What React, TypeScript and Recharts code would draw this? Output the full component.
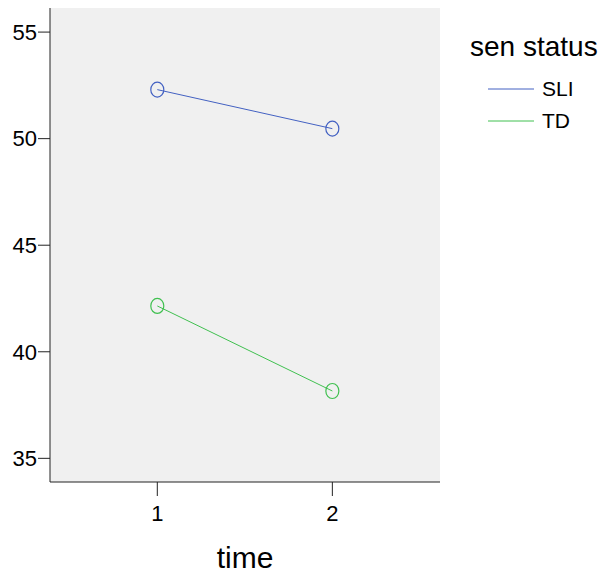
import { LineChart, Line, XAxis, YAxis, CartesianGrid } from "recharts";

const times = [1, 2];
const sliMeans = [52.3, 50.47];
const tdMeans = [42.15, 38.16];
const yTicks = [35, 40, 45, 50, 55];
const xTicks = [1, 2];

const series = [
  { key: "SLI", color: "#4361c2" },
  { key: "TD", color: "#40c050" },
];

const data = times.map((t, i) => ({ time: t, SLI: sliMeans[i], TD: tdMeans[i] }));

const font = "'Liberation Sans', Arial, sans-serif";

const Ring = (props: any) => {
  const { cx, cy, stroke } = props;
  if (cx == null || cy == null) return null;
  return <ellipse cx={cx} cy={cy} rx={6.5} ry={7.5} fill="none" stroke={stroke} strokeWidth={1.2} />;
};

export default function App() {
  return (
    <div style={{ position: "absolute", left: 0, top: 0, width: 607, height: 574, background: "#fff" }}>
      <LineChart width={607} height={574} data={data} margin={{ top: 8, right: 167, bottom: 0, left: 0 }}>
        <CartesianGrid horizontal={false} vertical={false} fill="#f0f0f0" />
        <XAxis
          dataKey="time"
          type="number"
          domain={[0.387, 2.615]}
          ticks={xTicks}
          allowDataOverflow
          height={92}
          tickSize={14}
          tickMargin={9}
          stroke="#222"
          tick={{ fill: "#000", fontSize: 22, fontFamily: font }}
          label={{ value: "time", position: "insideBottom", offset: 6, style: { fontSize: 30, fontFamily: font, fill: "#000" } }}
        />
        <XAxis xAxisId="top" orientation="top" dataKey="time" type="number" domain={[0.387, 2.615]} height={0} tick={false} tickLine={false} stroke="#555" />
        <YAxis
          domain={[33.89, 56.13]}
          ticks={yTicks}
          allowDataOverflow
          width={50}
          tickSize={12}
          tickMargin={1}
          stroke="#222"
          tick={{ fill: "#000", fontSize: 22, fontFamily: font }}
        />
        <YAxis yAxisId="right" orientation="right" domain={[33.89, 56.13]} width={0} tick={false} tickLine={false} stroke="#777" />
        {series.map((s) => (
          <Line key={s.key} dataKey={s.key} stroke={s.color} strokeWidth={1} dot={<Ring />} activeDot={false} isAnimationActive={false} />
        ))}
      </LineChart>
      <div style={{ position: "absolute", left: 470, top: 31, fontFamily: font, color: "#000" }}>
        <div style={{ fontSize: 28, lineHeight: "31px" }}>sen status</div>
        <div style={{ height: 11 }} />
        {series.map((s) => (
          <div key={s.key} style={{ display: "flex", alignItems: "center", height: 32, marginLeft: 18 }}>
            <svg width={46} height={4} style={{ marginRight: 8 }}>
              <line x1={0} y1={2} x2={46} y2={2} stroke={s.color} strokeWidth={1} />
            </svg>
            <span style={{ fontSize: 21 }}>{s.key}</span>
          </div>
        ))}
      </div>
    </div>
  );
}
